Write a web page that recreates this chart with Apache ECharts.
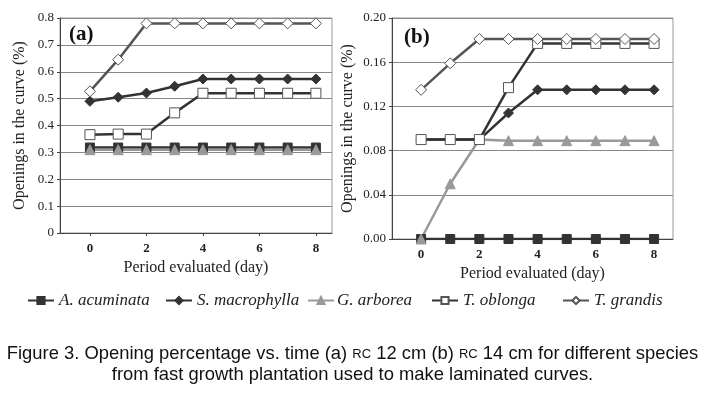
<!DOCTYPE html>
<html>
<head>
<meta charset="utf-8">
<script src="https://cdn.jsdelivr.net/npm/echarts@6.0.0/dist/echarts.min.js"></script>
<style>
  html, body { margin: 0; padding: 0; background: #fff; }
  #chart { width: 705px; height: 396px; }
</style>
</head>
<body>
<div id="chart"></div>
<script>
// days evaluated
const days = [0, 1, 2, 3, 4, 5, 6, 7, 8];
const dayTicks = [0, 2, 4, 6, 8];
const speciesNames = ["A. acuminata", "S. macrophylla", "G. arborea", "T. oblonga", "T. grandis"];

// (a) RC 12 cm
const acuminataA = [0.318, 0.318, 0.318, 0.318, 0.318, 0.318, 0.318, 0.318, 0.318];
const macrophyllaA = [0.49, 0.505, 0.521, 0.546, 0.573, 0.573, 0.573, 0.573, 0.573];
const arboreaA = [0.31, 0.31, 0.31, 0.31, 0.31, 0.31, 0.31, 0.31, 0.31];
const oblongaA = [0.366, 0.368, 0.368, 0.447, 0.52, 0.52, 0.52, 0.52, 0.52];
const grandisA = [0.527, 0.645, 0.78, 0.78, 0.78, 0.78, 0.78, 0.78, 0.78];

// (b) RC 14 cm
const acuminataB = [0, 0, 0, 0, 0, 0, 0, 0, 0];
const macrophyllaB = [0.09, 0.09, 0.09, 0.114, 0.135, 0.135, 0.135, 0.135, 0.135];
const arboreaB = [0, 0.05, 0.09, 0.089, 0.089, 0.089, 0.089, 0.089, 0.089];
const oblongaB = [0.09, 0.09, 0.09, 0.137, 0.177, 0.177, 0.177, 0.177, 0.177];
const grandisB = [0.135, 0.159, 0.181, 0.181, 0.181, 0.181, 0.181, 0.181, 0.181];

const serif = "'Liberation Serif', 'DejaVu Serif', serif";
const sans = "'Liberation Sans', Arial, sans-serif";

var styles = {
  "A. acuminata": { symbol: "rect", size: 9, fill: "#333", border: "#333", line: "#333" },
  "S. macrophylla": { symbol: "diamond", size: 10, fill: "#333", border: "#333", line: "#333" },
  "G. arborea": { symbol: "triangle", size: 10, fill: "#999", border: "#999", line: "#999" },
  "T. oblonga": { symbol: "rect", size: 10, fill: "#fff", border: "#555", line: "#333" },
  "T. grandis": { symbol: "diamond", size: 11, fill: "#fff", border: "#555", line: "#555" },
};

function mk(name, vals, idx) {
  var s = styles[name];
  return {
    name: name,
    type: "line",
    xAxisIndex: idx,
    yAxisIndex: idx,
    data: days.map(function (d, i) { return [d, vals[i]]; }),
    symbol: s.symbol,
    symbolSize: s.size,
    showAllSymbol: true,
    animation: false,
    lineStyle: { color: s.line, width: 2.5 },
    itemStyle: { color: s.fill, borderColor: s.border, borderWidth: 1 },
  };
}

function xAx(idx, min, max) {
  return {
    type: "value",
    gridIndex: idx,
    min: min,
    max: max,
    name: "Period evaluated (day)",
    nameLocation: "middle",
    nameGap: 21,
    nameTextStyle: { fontFamily: serif, fontSize: 16, color: "#222" },
    splitLine: { show: false },
    axisLine: { onZero: false, lineStyle: { color: "#444", width: 1 } },
    axisTick: { customValues: dayTicks, length: 3, lineStyle: { color: "#444" } },
    axisLabel: { customValues: dayTicks, margin: 9, fontFamily: serif, fontSize: 13, fontWeight: "bold", color: "#222" },
  };
}

function yAx(idx, max, step, dec) {
  return {
    type: "value",
    gridIndex: idx,
    min: 0,
    max: max,
    interval: step,
    name: "Openings in the curve (%)",
    nameLocation: "middle",
    nameGap: dec === 1 ? 32 : 36,
    nameTextStyle: { fontFamily: serif, fontSize: 16, color: "#222" },
    splitLine: { lineStyle: { color: "#888", width: 1 } },
    axisLine: { show: true, onZero: false, lineStyle: { color: "#444", width: 1 } },
    axisTick: { show: true, length: 3, lineStyle: { color: "#444" } },
    axisLabel: {
      margin: 6,
      fontFamily: serif,
      fontSize: 13,
      color: "#222",
      formatter: function (v) {
        if (dec === 1 && v === 0) return "0";
        return v.toFixed(dec);
      },
    },
  };
}

// one legend per item so the uneven spacing of the figure can be kept
var legendLefts = [22, 160, 302, 426, 557];
var legends = speciesNames.map(function (n, i) {
  return {
    left: legendLefts[i],
    top: 287,
    itemGap: 0,
    itemWidth: 26,
    itemHeight: 9,
    data: [n],
    textStyle: { fontFamily: serif, fontStyle: "italic", fontSize: 17, color: "#222", padding: [0, 0, 0, i === 2 ? -2 : 0] },
  };
});

var myChart = echarts.init(document.getElementById("chart"), null, { renderer: "canvas" });

myChart.setOption({
  backgroundColor: "#fff",
  animation: false,
  title: [
    { text: "(a)", left: 64, top: 19, textStyle: { fontFamily: serif, fontSize: 21, fontWeight: "bold", color: "#111" } },
    { text: "(b)", left: 399, top: 22, textStyle: { fontFamily: serif, fontSize: 21, fontWeight: "bold", color: "#111" } },
    {
      text: "Figure 3. Opening percentage vs. time (a) {sc|RC} 12 cm (b) {sc|RC} 14 cm for different species",
      left: "center",
      top: 340,
      textStyle: {
        fontFamily: sans,
        fontSize: 18.4,
        fontWeight: "normal",
        color: "#111",
        rich: { sc: { fontFamily: sans, fontSize: 13, color: "#111" } },
      },
    },
    {
      text: "from fast growth plantation used to make laminated curves.",
      left: "center",
      top: 361,
      textStyle: { fontFamily: sans, fontSize: 18.4, fontWeight: "normal", color: "#111" },
    },
  ],
  legend: legends,
  grid: [
    { left: 60, top: 18, right: 373, bottom: 163, show: true, borderColor: "#999", borderWidth: 1 },
    { left: 392, top: 18, right: 32, bottom: 157, show: true, borderColor: "#999", borderWidth: 1 },
  ],
  xAxis: [xAx(0, -1.06, 8.57), xAx(1, -1.0, 8.65)],
  yAxis: [yAx(0, 0.8, 0.1, 1), yAx(1, 0.2, 0.04, 2)],
  series: [
    mk("A. acuminata", acuminataA, 0),
    mk("S. macrophylla", macrophyllaA, 0),
    mk("G. arborea", arboreaA, 0),
    mk("T. oblonga", oblongaA, 0),
    mk("T. grandis", grandisA, 0),
    mk("A. acuminata", acuminataB, 1),
    mk("S. macrophylla", macrophyllaB, 1),
    mk("G. arborea", arboreaB, 1),
    mk("T. oblonga", oblongaB, 1),
    mk("T. grandis", grandisB, 1),
  ],
});
</script>
</body>
</html>
